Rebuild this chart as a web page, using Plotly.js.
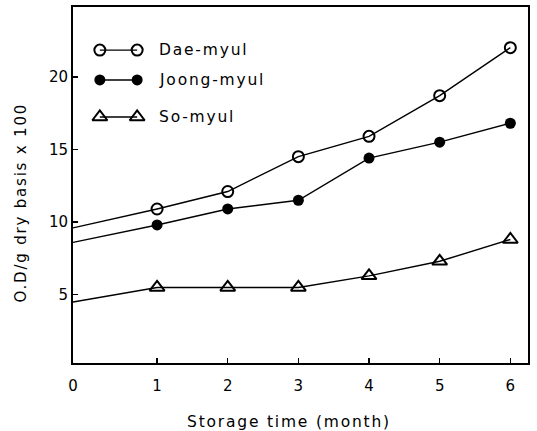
<!DOCTYPE html>
<html>
<head>
<meta charset="utf-8">
<script src="https://cdn.plot.ly/plotly-3.0.1.min.js"></script>
<style>
html,body{margin:0;padding:0;background:#fff;}
#chart{width:537px;height:431px;}
.annotation-text{letter-spacing:1.8px;}
</style>
</head>
<body>
<div id="chart"></div>
<script>
const months = [0, 1, 2, 3, 4, 5, 6];
const tickLabels = ['0', '1', '2', '3', '4', '5', '6'];
const seriesNames = ['Dae-myul', 'Joong-myul', 'So-myul'];
const daeMyul = [9.6, 10.9, 12.1, 14.5, 15.9, 18.7, 22.0];
const joongMyul = [8.6, 9.8, 10.9, 11.5, 14.4, 15.5, 16.8];
const soMyul = [4.5, 5.5, 5.5, 5.5, 6.3, 7.3, 8.8];
const yTicks = [5, 10, 15, 20];

const X_MIN = -0.19, X_MAX = 6.25;
const xPlot = months.map(m => m === 0 ? X_MIN : m);

const styles = [
  {symbol: 'circle-open', size: 11, lw: 2},
  {symbol: 'circle', size: 11, lw: 0},
  {symbol: 'triangle-up-open', size: 13, lw: 2}
];
const allSeries = [daeMyul, joongMyul, soMyul];

const traces = allSeries.map((vals, i) => ({
  x: xPlot, y: vals, type: 'scatter', mode: 'lines+markers',
  name: seriesNames[i], showlegend: false,
  line: {color: '#000', width: 1.4},
  marker: {
    symbol: styles[i].symbol, size: styles[i].size, color: '#000',
    line: {color: '#000', width: styles[i].lw},
    opacity: months.map(m => m === 0 ? 0 : 1)
  },
  cliponaxis: false
}));

// custom legend (overlay axes in fractional plot coordinates)
const legRows = [0.879, 0.795, 0.691];
const legX = [0.059, 0.141];
allSeries.forEach((vals, i) => {
  traces.push({
    x: legX, y: [legRows[i], legRows[i]], xaxis: 'x2', yaxis: 'y2',
    type: 'scatter', mode: 'lines+markers', showlegend: false, hoverinfo: 'skip',
    line: {color: '#000', width: 1.4},
    marker: {symbol: styles[i].symbol, size: styles[i].size, color: '#000',
             line: {color: '#000', width: styles[i].lw}}
  });
});

const fam = 'DejaVu Sans, Arial, sans-serif';

const layout = {
  width: 537, height: 431,
  margin: {l: 73, r: 9, t: 7, b: 68},
  paper_bgcolor: '#fff', plot_bgcolor: '#fff',
  showlegend: false,
  xaxis: {
    range: [X_MIN, X_MAX], tickmode: 'array',
    tickvals: xPlot, ticktext: tickLabels,
    ticks: 'inside', ticklen: 5, tickwidth: 1.5, tickcolor: '#000',
    ticklabelstandoff: 8,
    showline: true, linecolor: '#000', linewidth: 2, mirror: true,
    showgrid: false, zeroline: false,
    tickfont: {family: fam, size: 15, color: '#000'}
  },
  yaxis: {
    range: [0.3, 24.8], tickmode: 'array', tickvals: yTicks,
    ticks: 'inside', ticklen: 5, tickwidth: 1.5, tickcolor: '#000',
    showline: true, linecolor: '#000', linewidth: 2, mirror: true,
    showgrid: false, zeroline: false,
    tickfont: {family: fam, size: 15, color: '#000'}
  },
  xaxis2: {overlaying: 'x', range: [0, 1], visible: false, fixedrange: true},
  yaxis2: {overlaying: 'y', range: [0, 1], visible: false, fixedrange: true},
  annotations: [
    ...seriesNames.map((n, i) => ({
      xref: 'paper', yref: 'paper', x: 0.185, y: legRows[i],
      xanchor: 'left', yanchor: 'middle', showarrow: false,
      text: n, font: {family: fam, size: 15.5, color: '#000'}
    })),
    {
      xref: 'paper', yref: 'paper', x: 0.474, y: -0.165,
      xanchor: 'center', yanchor: 'middle', showarrow: false,
      text: 'Storage time (month)', font: {family: fam, size: 15.5, color: '#000'}
    },
    {
      xref: 'paper', yref: 'paper', x: -0.115, y: 0.45,
      xanchor: 'center', yanchor: 'middle', showarrow: false, textangle: -90,
      text: 'O.D/g dry basis x 100', font: {family: fam, size: 15, color: '#000'}
    }
  ]
};

Plotly.newPlot('chart', traces, layout, {staticPlot: true, displayModeBar: false});
</script>
</body>
</html>
